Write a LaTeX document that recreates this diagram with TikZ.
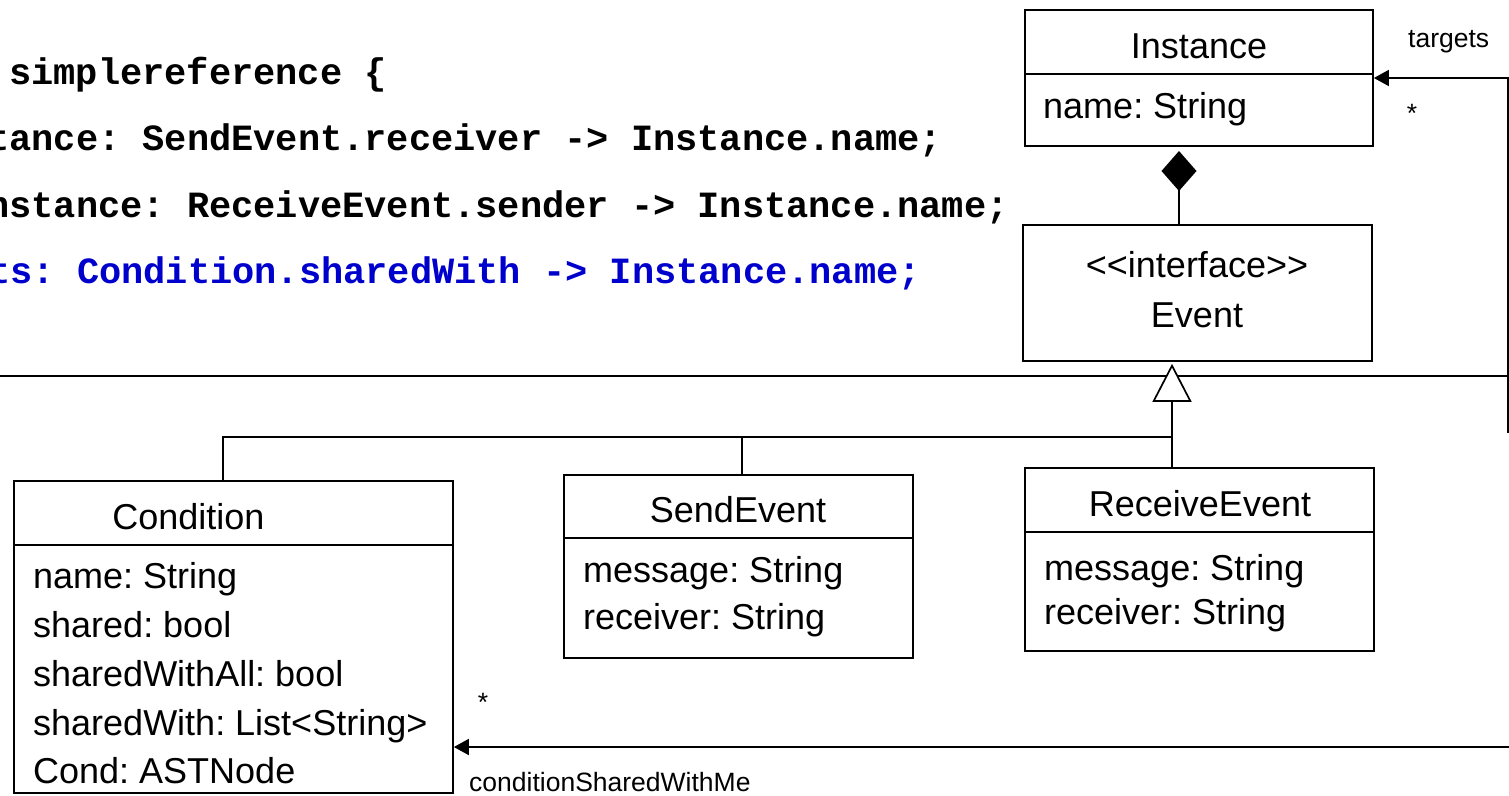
\documentclass[tikz,border=0pt]{standalone}
\usepackage{fontspec}
\setmainfont{Liberation Sans}
\newfontfamily\codefont{Liberation Mono}
\usetikzlibrary{arrows.meta}
\definecolor{codeblue}{RGB}{0,0,204}
\frenchspacing
\begin{document}
\begin{tikzpicture}[x=1pt,y=-1pt,
  umlbox/.style={draw, line width=1.7pt, rectangle, inner sep=0pt},
  conn/.style={line width=1.7pt},
  title/.style={font=\fontsize{36}{40}\selectfont, inner sep=0pt, anchor=base},
  attr/.style={font=\fontsize{36}{40}\selectfont, inner sep=0pt, anchor=base west},
  lbl/.style={font=\fontsize{26.5}{30}\selectfont, inner sep=0pt, anchor=base west},
  mult/.style={font=\fontsize{26.5}{30}\selectfont, inner sep=0pt, anchor=center},
  code/.style={font=\codefont\bfseries\fontsize{37}{40}\selectfont, inner sep=0pt, anchor=base west},
  filledtip/.style={-{Triangle[length=15pt,width=16pt]}}
]
\useasboundingbox (0,0) rectangle (1509,795);
\clip (0,0) rectangle (1509,795);

% code listing
\node[code] (l1) at (9,84) {simplereference \{};
\node[code] (l2) at (-13,150) {tance: SendEvent.receiver -> Instance.name;};
\node[code] (l3) at (-13,217) {nstance: ReceiveEvent.sender -> Instance.name;};
\node[code, text=codeblue] (l4) at (-12,283) {ts: Condition.sharedWith -> Instance.name;};

% classes
\node[umlbox, minimum width=348pt, minimum height=136pt] (inst) at (1199,78) {};
\draw[conn] (inst.west |- 0,74) -- (inst.east |- 0,74);
\node[title] (instT) at (1199,58) {Instance};
\node[attr] (instA) at (1043,118) {name: String};

\node[umlbox, minimum width=349pt, minimum height=136pt] (ev) at (1197.5,293) {};
\node[title] (evS) at (1197,277) {<\kern0pt<interface>\kern0pt>};
\node[title] (evT) at (1197,327) {Event};

\node[umlbox, minimum width=439pt, minimum height=312pt] (cond) at (233.5,637) {};
\draw[conn] (cond.west |- 0,545) -- (cond.east |- 0,545);
\node[title] (condT) at (188.5,529) {Condition};
\node[attr] (condA1) at (33,588) {name: String};
\node[attr] (condA2) at (33,637) {shared: bool};
\node[attr] (condA3) at (33,686) {sharedWithAll: bool};
\node[attr] (condA4) at (33,735) {sharedWith: List<String>};
\node[attr] (condA5) at (33,783) {Cond: ASTNode};

\node[umlbox, minimum width=349pt, minimum height=183pt] (send) at (738.5,566.5) {};
\draw[conn] (send.west |- 0,538) -- (send.east |- 0,538);
\node[title] (sendT) at (738,522) {SendEvent};
\node[attr] (sendA1) at (583,582) {message: String};
\node[attr] (sendA2) at (583,629) {receiver: String};

\node[umlbox, minimum width=349pt, minimum height=183pt] (recv) at (1199.5,559.5) {};
\draw[conn] (recv.west |- 0,532) -- (recv.east |- 0,532);
\node[title] (recvT) at (1200,516) {ReceiveEvent};
\node[attr] (recvA1) at (1044,580) {message: String};
\node[attr] (recvA2) at (1044,624) {receiver: String};

% routing points
\coordinate (dtop) at (1179,151);
\coordinate (sepL) at (0,376);
\coordinate (sepR) at (1508,376);
\coordinate (bl) at (223,437);
\coordinate (bm) at (742,437);
\coordinate (jn) at (1172,437);
\coordinate (rb) at (1508,433);
\coordinate (rt) at (1508,78);
\coordinate (br) at (1512,747);

% separator rule
\draw[conn] (sepL) -- (sepR);

% composition Event -> Instance
\draw[conn, -{Diamond[length=40pt,width=35pt]}] (dtop |- ev.north) -- (dtop);

% generalisation tree
\draw[conn] (cond.north -| bl) -- (bl) -- (jn);
\draw[conn] (send.north -| bm) -- (bm);
\draw[conn] (recv.north -| jn) -- (jn);
\draw[conn, -{Triangle[open, fill=white, length=38pt, width=39pt]}, shorten >=2pt] (jn) -- (jn |- ev.south);

% associations
\draw[conn, filledtip] (rb) -- (rt) -- (inst.east);
\node[lbl] (tgtL) at (1408,47) {targets};
\node[mult] (tgtM) at (1412,113) {*};

\draw[conn, filledtip] (br) -- (cond.east |- br);
\node[mult] (cswM) at (483,702) {*};
\node[lbl] (cswL) at (469,791) {conditionSharedWithMe};
\end{tikzpicture}
\end{document}
